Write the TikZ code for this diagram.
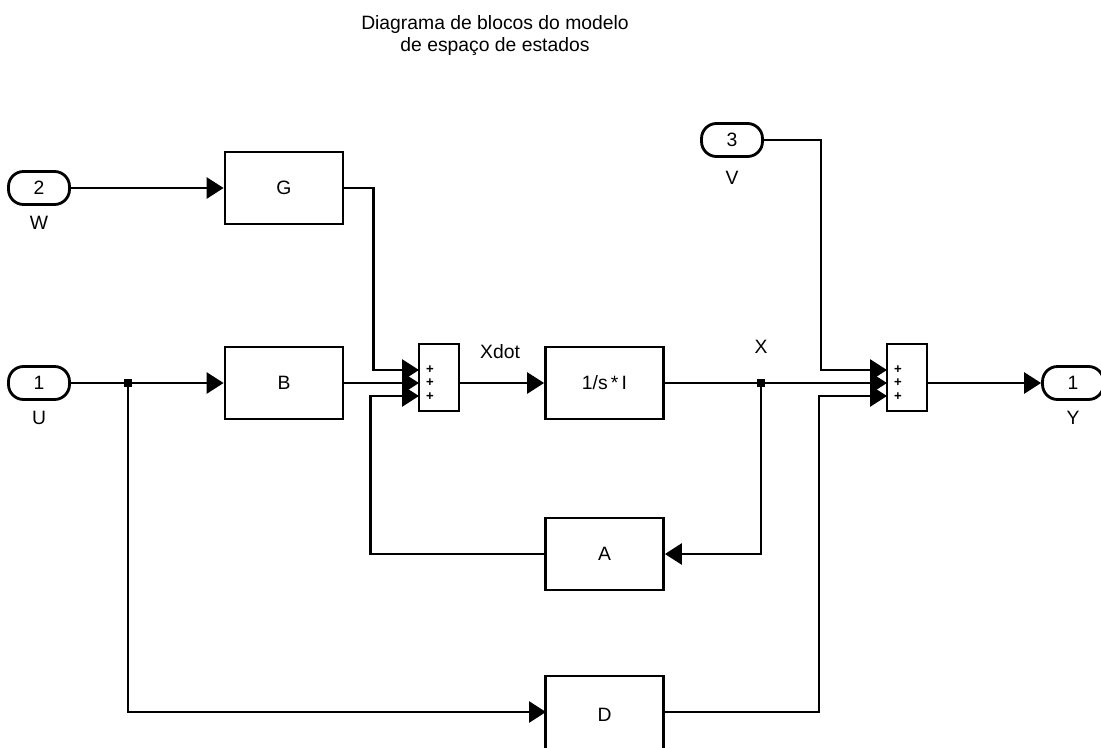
\documentclass[tikz,border=0pt]{standalone}
\usepackage{fontspec}
\setmainfont{Liberation Sans}
\usetikzlibrary{arrows.meta,positioning}
\tikzset{
  blk/.style={rectangle, draw, line width=1.6pt, minimum width=2.36cm, minimum height=1.44cm,
              inner sep=0pt, font=\fontsize{11}{13}\selectfont},
  sumblk/.style={rectangle, draw, line width=1.6pt, minimum width=0.8cm, minimum height=1.34cm, inner sep=0pt},
  port/.style={rectangle, rounded corners=0.3cm, draw, line width=1.6pt, minimum width=1.22cm,
               minimum height=0.66cm, inner sep=0pt, font=\fontsize{11}{13}\selectfont},
  lbl/.style={inner sep=0pt, font=\fontsize{11}{13}\selectfont},
  plus/.style={inner sep=0pt, align=center, font=\fontsize{7.5}{7.6}\selectfont\bfseries},
  wire/.style={line width=1.6pt},
  sig/.style={-{Triangle[length=3.4mm,width=4.2mm]}, line width=1.6pt},
  junc/.style={rectangle, fill, minimum size=0.15cm, inner sep=0pt},
}
\begin{document}
\begin{tikzpicture}[x=0.02cm, y=-0.02cm]
  \useasboundingbox (0,0) rectangle (1101,747);
  \node[lbl, align=center, font=\fontsize{11}{13}\selectfont] (title) at (495,35.5)
       {Diagrama de blocos do modelo\\de espaço de estados};
  % entradas e saida
  \node[port] (portW) at (39,188) {2};
  \node[lbl, below=2mm of portW] (labW) {W};
  \node[port] (portU) at (39,383) {1};
  \node[lbl, below=2mm of portU] (labU) {U};
  \node[port] (portV) at (732,140) {3};
  \node[lbl, below=2.6mm of portV] (labV) {V};
  \node[port] (portY) at (1073,383) {1};
  \node[lbl, below=2mm of portY] (labY) {Y};
  % blocos
  \node[blk] (G) at (284,188) {G};
  \node[blk] (B) at (284,383) {B};
  \node[sumblk] (sumA) at (439,377.5) {};
  \node[blk] (Integ) at (604.5,383) {1/s\,*\,I};
  \node[blk] (A) at (604.5,554) {A};
  \node[blk, minimum height=1.56cm] (D) at (604.5,715) {D};
  \node[sumblk] (sumB) at (907,377.5) {};
  \node[plus] (pA) at (430,383) {+\\+\\+};
  \node[plus] (pB) at (898,383) {+\\+\\+};
  \coordinate (s1a) at (419,370); \coordinate (s1b) at (419,383); \coordinate (s1c) at (419,396);
  \coordinate (s2a) at (887,370); \coordinate (s2b) at (887,383); \coordinate (s2c) at (887,396);
  \coordinate (dIn) at (546,712); \coordinate (dOut) at (663,712);
  \node[junc] (brU) at (128,383) {};
  \node[junc] (brX) at (761,383) {};
  \node[lbl] (xdot) at (500,352) {Xdot};
  \node[lbl] (xlab) at (761,347) {X};
  % ligacoes
  \draw[sig] (portW) -- (G);
  \draw[wire] (portU) -- (brU);
  \draw[sig] (brU) -- (B);
  \draw[sig] (brU.center) |- (dIn);
  \draw[sig] (G.east) -- ++(29,0) |- (s1a);
  \draw[sig] (B.east) -- (s1b);
  \draw[sig] (A.west) -- ++(-174,0) |- (s1c);
  \draw[sig] (sumA.east |- s1b) -- (Integ.west);
  \draw[wire] (Integ.east) -- (brX);
  \draw[sig] (brX) -- (s2b);
  \draw[sig] (brX.center) |- (A.east);
  \draw[sig] (portV.east) -- ++(57,0) |- (s2a);
  \draw[sig] (dOut) -- ++(156,0) |- (s2c);
  \draw[sig] (sumB.east |- s2b) -- (portY.west);
\end{tikzpicture}
\end{document}
